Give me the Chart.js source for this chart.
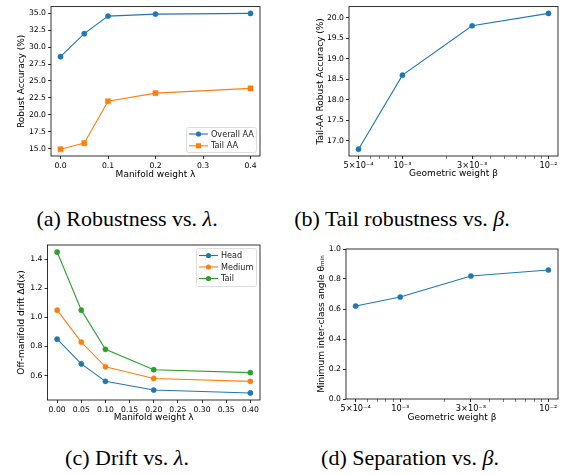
<!DOCTYPE html>
<html>
<head>
<meta charset="utf-8">
<script src="https://cdn.jsdelivr.net/npm/chart.js@4.4.1/dist/chart.umd.min.js"></script>
<style>
    body { margin: 0; background: #fff; width: 569px; height: 475px; position: relative; overflow: hidden; }
    .panel { position: absolute; }
    .cap { position: absolute; font-family: "Liberation Serif", "DejaVu Serif", serif; font-size: 22px; line-height: 24px;
           color: #000; white-space: nowrap; transform: translateX(-50%); }
</style>
</head>
<body>
<div class="panel" style="left:0;top:0"><canvas id="chartA" width="285" height="200"></canvas></div>
<div class="panel" style="left:285px;top:0"><canvas id="chartB" width="284" height="200"></canvas></div>
<div class="panel" style="left:0;top:235px"><canvas id="chartC" width="285" height="200"></canvas></div>
<div class="panel" style="left:285px;top:235px"><canvas id="chartD" width="284" height="200"></canvas></div>

<div class="cap" style="left:127px;top:207px">(a) Robustness vs. <i>λ</i>.</div>
<div class="cap" style="left:402px;top:207px">(b) Tail robustness vs. <i>β</i>.</div>
<div class="cap" style="left:127px;top:446px">(c) Drift vs. <i>λ</i>.</div>
<div class="cap" style="left:410px;top:446px">(d) Separation vs. <i>β</i>.</div>

<script>
    // data
    const lambdas = [0, 0.05, 0.1, 0.2, 0.4];
    const overallAA = [28.6, 32.0, 34.6, 34.9, 35.0];
    const tailAA = [14.9, 15.8, 22.0, 23.2, 23.9];

    const betas = [5e-4, 1e-3, 3e-3, 1e-2];
    const tailAABeta = [16.8, 18.6, 19.8, 20.1];

    const driftHead = [0.85, 0.68, 0.56, 0.50, 0.48];
    const driftMedium = [1.05, 0.83, 0.66, 0.58, 0.56];
    const driftTail = [1.45, 1.05, 0.78, 0.64, 0.62];

    const thetaMin = [0.62, 0.68, 0.82, 0.86];

    const betaTicks = [5e-4, 1e-3, 3e-3, 1e-2];
    const betaTickLabels = ['5×10⁻⁴', '10⁻³', '3×10⁻³', '10⁻²'];
    const betaMinor = [6e-4, 7e-4, 8e-4, 9e-4, 2e-3, 4e-3, 5e-3, 6e-3, 7e-3, 8e-3, 9e-3];

    const BLUE = '#1f77b4', ORANGE = '#ff7f0e', GREEN = '#2ca02c';
    const FONT = 'DejaVu Sans';
    const TICK_SIZE = 7.7;

    function pts(xs, ys) {
        return xs.map((x, i) => ({ x: x, y: ys[i] }));
    }

    function series(label, xs, ys, color, style) {
        return {
            label: label, data: pts(xs, ys),
            borderColor: color, backgroundColor: color,
            pointBackgroundColor: color, pointBorderColor: color,
            borderWidth: 1.1, pointStyle: style || 'circle',
            pointRadius: style === 'rect' ? 3.6 : 2.6, pointBorderWidth: 0.5,
            tension: 0
        };
    }

    // frame on all four sides plus a matplotlib-like legend box
    const framePlugin = {
        id: 'frame',
        afterDraw(chart, args, opts) {
            const ctx = chart.ctx, a = chart.chartArea;
            ctx.save();
            ctx.strokeStyle = '#000';
            ctx.lineWidth = 0.8;
            ctx.strokeRect(a.left, a.top, a.right - a.left, a.bottom - a.top);
            const leg = opts.legend;
            if (leg) {
                ctx.beginPath();
                ctx.roundRect(leg.x + 0.5, leg.y + 0.5, leg.w, leg.h, 2);
                ctx.fillStyle = 'rgba(255,255,255,0.8)';
                ctx.fill();
                ctx.strokeStyle = '#d4d4d4';
                ctx.lineWidth = 0.8;
                ctx.stroke();
                ctx.font = '8.1px "' + FONT + '"';
                ctx.textBaseline = 'middle';
                chart.data.datasets.forEach((ds, i) => {
                    const y = leg.y + leg.first + i * leg.row;
                    const x0 = leg.x + 3, x1 = leg.x + 22;
                    ctx.strokeStyle = ds.borderColor;
                    ctx.lineWidth = 1.1;
                    ctx.beginPath();
                    ctx.moveTo(x0, y);
                    ctx.lineTo(x1, y);
                    ctx.stroke();
                    ctx.fillStyle = ds.borderColor;
                    Chart.helpers.drawPoint(ctx, { pointStyle: ds.pointStyle, radius: ds.pointRadius, rotation: 0, borderWidth: 0 }, (x0 + x1) / 2, y);
                    ctx.fillStyle = '#222';
                    ctx.fillText(ds.label, leg.x + 25, y + 0.5);
                });
            }
            ctx.restore();
        }
    };

    function tickGrid(minor) {
        return {
            display: true, drawOnChartArea: false, drawTicks: true, tickLength: 3,
            tickColor: '#000',
            tickWidth: c => (minor && c.tick && minor.includes(c.tick.value)) ? 0.5 : 0.8
        };
    }

    function makeChart(id, geo, datasets, xScale, yScale, xTitle, yTitle, legend) {
        const canvas = document.getElementById(id);
        const W = canvas.width, H = canvas.height;
        xScale.position = 'bottom';
        xScale.border = { display: false };
        xScale.title = { display: true, text: xTitle, color: '#000', font: { family: FONT, size: 9 }, padding: { top: 0, bottom: geo.xTitlePad } };
        xScale.afterFit = s => { s.height = H - geo.b; };
        yScale.position = 'left';
        yScale.border = { display: false };
        yScale.title = { display: true, text: yTitle, color: '#000', font: { family: FONT, size: 9 }, padding: { top: geo.yTitlePad, bottom: 0 } };
        yScale.afterFit = s => { s.width = geo.l; };
        return new Chart(canvas, {
            type: 'line',
            data: { datasets: datasets },
            options: {
                responsive: false, animation: false, devicePixelRatio: 1,
                layout: { padding: { left: 0, top: geo.t, right: W - geo.r, bottom: 0 } },
                scales: { x: xScale, y: yScale },
                plugins: { legend: { display: false }, tooltip: { enabled: false }, frame: { legend: legend } }
            },
            plugins: [framePlugin]
        });
    }

    function linearAxis(min, max, step, digits) {
        return {
            type: 'linear', min: min, max: max,
            grid: tickGrid(null),
            ticks: {
                stepSize: step, includeBounds: false, color: '#000', padding: 2, maxRotation: 0, autoSkip: false,
                font: { family: FONT, size: TICK_SIZE },
                callback: v => v.toFixed(digits)
            }
        };
    }

    function betaAxis() {
        const lo = Math.log10(betas[0]), hi = Math.log10(betas[betas.length - 1]);
        const m = (hi - lo) * 0.05;
        const all = betaTicks.concat(betaMinor).sort((a, b) => a - b);
        return {
            type: 'logarithmic', min: Math.pow(10, lo - m), max: Math.pow(10, hi + m),
            grid: tickGrid(betaMinor),
            afterBuildTicks: s => { s.ticks = all.map(v => ({ value: v })); },
            ticks: {
                color: '#000', padding: 2, maxRotation: 0, autoSkip: false,
                font: { family: FONT, size: 8.2 },
                callback: v => {
                    const i = betaTicks.indexOf(v);
                    return i >= 0 ? betaTickLabels[i] : '';
                }
            }
        };
    }

    function padRange(values, frac) {
        const lo = Math.min(...values), hi = Math.max(...values);
        const m = (hi - lo) * frac;
        return [lo - m, hi + m];
    }

    // (a) Robustness vs lambda
    const rangeA = padRange(overallAA.concat(tailAA), 0.05);
    makeChart('chartA', { l: 51, t: 2, r: 260, b: 156, yTitlePad: 16.6, xTitlePad: 19.6 },
        [series('Overall AA', lambdas, overallAA, BLUE), series('Tail AA', lambdas, tailAA, ORANGE, 'rect')],
        linearAxis(-0.02, 0.42, 0.1, 1), linearAxis(rangeA[0], rangeA[1], 2.5, 1),
        'Manifold weight λ', 'Robust Accuracy (%)',
        { x: 186, y: 127, w: 70, h: 25, first: 7, row: 11.8 });

    // (b) Tail robustness vs beta
    const rangeB = padRange(tailAABeta, 0.05);
    makeChart('chartB', { l: 64, t: 3, r: 273, b: 156, yTitlePad: 30.1, xTitlePad: 20.6 },
        [series('Tail AA', betas, tailAABeta, BLUE)],
        betaAxis(), linearAxis(rangeB[0], rangeB[1], 0.5, 1),
        'Geometric weight β', 'Tail-AA Robust Accuracy (%)', null);

    // (c) Drift vs lambda
    const rangeC = padRange(driftHead.concat(driftMedium, driftTail), 0.05);
    makeChart('chartC', { l: 47.5, t: 10, r: 260, b: 165, yTitlePad: 16.6, xTitlePad: 11.6 },
        [series('Head', lambdas, driftHead, BLUE), series('Medium', lambdas, driftMedium, ORANGE), series('Tail', lambdas, driftTail, GREEN)],
        linearAxis(-0.02, 0.42, 0.05, 2), linearAxis(rangeC[0], rangeC[1], 0.2, 1),
        'Manifold weight λ', 'Off-manifold drift Δd(x)',
        { x: 196, y: 13, w: 60, h: 38, first: 7.5, row: 11.5 });

    // (d) Separation vs beta
    makeChart('chartD', { l: 61, t: 14, r: 273, b: 164, yTitlePad: 31.6, xTitlePad: 11.6 },
        [series('θmin', betas, thetaMin, BLUE)],
        betaAxis(), linearAxis(0, 1, 0.2, 1),
        'Geometric weight β', 'Minimum inter-class angle θₘᵢₙ', null);
</script>
</body>
</html>
